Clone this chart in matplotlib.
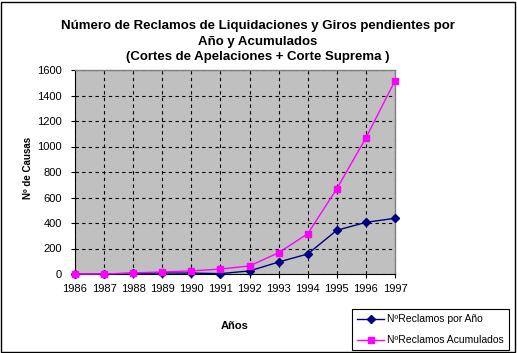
import matplotlib
matplotlib.use("Agg")
import matplotlib.pyplot as plt
from matplotlib.patches import Rectangle

years = ["1986", "1987", "1988", "1989", "1990", "1991", "1992", "1993", "1994", "1995", "1996", "1997"]
por_anio = [0, 0, 5, 8, 7, 3, 24, 94, 157, 343, 405, 437]
acumulados = [0, 0, 8, 16, 24, 39, 63, 167, 316, 669, 1067, 1516]
yticks = [0, 200, 400, 600, 800, 1000, 1200, 1400, 1600]

plt.rcParams['font.family'] = ['Liberation Sans', 'DejaVu Sans']

W, H = 517, 353
fig = plt.figure(figsize=(W / 100, H / 100), dpi=100)
fig.patch.set_facecolor('white')

L, R, T, B = 75, 395, 70, 274
ax = fig.add_axes([L / W, 1 - B / H, (R - L) / W, (B - T) / H])
ax.set_facecolor('#C0C0C0')

x = list(range(len(years)))
ax.plot(x, por_anio, color='#000080', marker='D', markersize=4.5, linewidth=1,
        label='NºReclamos por Año', clip_on=False, zorder=4)
ax.plot(x, acumulados, color='#FF00FF', marker='s', markersize=4.6, linewidth=1,
        label='NºReclamos Acumulados', clip_on=False, zorder=5)

ax.set_xlim(0, len(years) - 1)
ax.set_ylim(0, 1600)
ax.set_xticks(x)
ax.set_xticklabels(years, fontsize=8)
ax.set_yticks(yticks)
ax.set_yticklabels([str(v) for v in yticks], fontsize=8)
ax.grid(True, color='black', linestyle=(0, (3, 3)), linewidth=0.8)
ax.set_axisbelow(True)
ax.tick_params(axis='both', direction='out', length=3, width=0.8, color='black')
ax.tick_params(axis='x', pad=4.5)
ax.tick_params(axis='y', pad=6.5)

for s in ['top', 'right']:
    ax.spines[s].set_color('#808080')
    ax.spines[s].set_linewidth(1)
for s in ['left', 'bottom']:
    ax.spines[s].set_color('black')
    ax.spines[s].set_linewidth(0.8)

fig.text(258 / W, 1 - 41.5 / H,
         'Número de Reclamos de Liquidaciones y Giros pendientes por\nAño y Acumulados\n(Cortes de Apelaciones + Corte Suprema )',
         ha='center', va='center', fontsize=9.5, fontweight='bold', linespacing=1.38)

fig.text(235 / W, 1 - 326 / H, 'Años', ha='center', va='center', fontsize=8, fontweight='bold')
fig.text(28 / W, 1 - 168 / H, 'Nº de Causas', ha='center', va='center', fontsize=7,
         fontweight='bold', rotation=90)

leg = fig.legend(loc='upper left', bbox_to_anchor=(352 / W, 1 - 309 / H), fontsize=7.5,
                 frameon=True, fancybox=False, edgecolor='black', framealpha=1,
                 handlelength=2.6, borderpad=0.5, labelspacing=1.05, handletextpad=0.25,
                 borderaxespad=0)
leg.get_frame().set_linewidth(0.8)

fig.patches.append(Rectangle((0.5 / W, 1.5 / H), (W - 2.5) / W, (H - 3) / H,
                             transform=fig.transFigure, fill=False,
                             edgecolor='black', linewidth=1))

fig.savefig('out.png', dpi=100)
